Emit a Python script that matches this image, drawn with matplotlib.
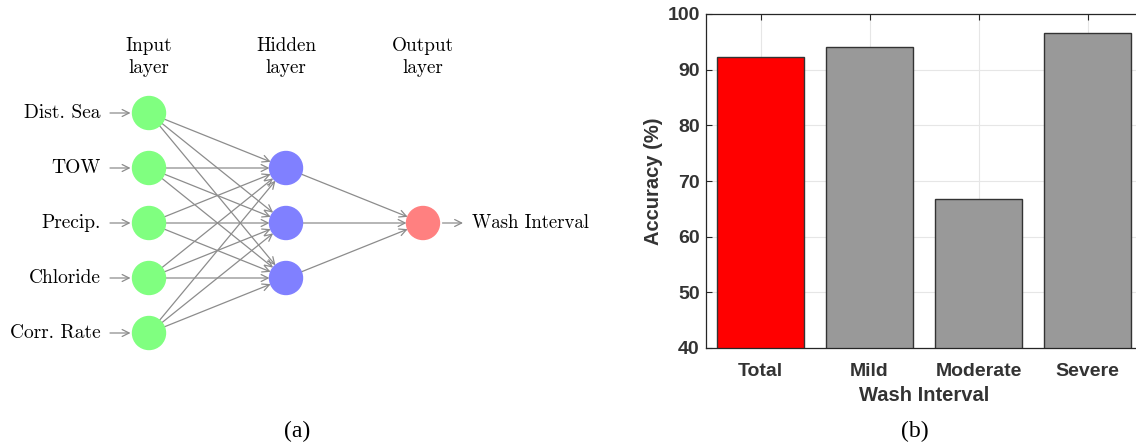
import matplotlib.pyplot as plt
from matplotlib.patches import Circle, FancyArrowPatch

# network diagram content
input_names = ["Dist. Sea", "TOW", "Precip.", "Chloride", "Corr. Rate"]
n_hidden = 3
output_name = "Wash Interval"
layer_titles = ["Input\nlayer", "Hidden\nlayer", "Output\nlayer"]

# bar chart data
classes = ["Total", "Mild", "Moderate", "Severe"]
accuracy = [92.3, 94.1, 66.7, 96.5]
bar_colors = ["#ff0000", "#999999", "#999999", "#999999"]

W, H = 1136, 447
fig = plt.figure(figsize=(W / 100, H / 100), dpi=100)

# ---- (a) network sketch, drawn in pixel coordinates ----
net = fig.add_axes([0, 0, 1, 1])
net.set_xlim(0, W)
net.set_ylim(H, 0)
net.axis("off")

cm = "cmr10"
layer_x = [149, 286, 423]
spacing = 55
r = 16.5
mid_y = 223

def column(n):
    return [mid_y + (i - (n - 1) / 2) * spacing for i in range(n)]

in_y = column(len(input_names))
hid_y = column(n_hidden)
out_y = column(1)

def arrow(x0, y0, x1, y1):
    a = FancyArrowPatch((x0, y0), (x1, y1), arrowstyle="->,head_length=5,head_width=2.5",
                        color="#8c8c8c", lw=0.9, shrinkA=0, shrinkB=0, zorder=1)
    net.add_patch(a)

def link(xa, ya, xb, yb):
    dx, dy = xb - xa, yb - ya
    d = (dx ** 2 + dy ** 2) ** 0.5
    arrow(xa + dx / d * r, ya + dy / d * r, xb - dx / d * r, yb - dy / d * r)

for ya in in_y:
    for yb in hid_y:
        link(layer_x[0], ya, layer_x[1], yb)
for ya in hid_y:
    for yb in out_y:
        link(layer_x[1], ya, layer_x[2], yb)

for name, y in zip(input_names, in_y):
    net.add_patch(Circle((layer_x[0], y), r, color="#80ff80", zorder=2))
    arrow(110, y, layer_x[0] - r - 2, y)
    net.text(101, y, name, family=cm, fontsize=14, ha="right", va="center")
for y in hid_y:
    net.add_patch(Circle((layer_x[1], y), r, color="#8080ff", zorder=2))
for y in out_y:
    net.add_patch(Circle((layer_x[2], y), r, color="#ff8080", zorder=2))
    arrow(layer_x[2] + r + 3, y, 463, y)
    net.text(472, y, output_name, family=cm, fontsize=13.5, ha="left", va="center")

for x, t in zip(layer_x, layer_titles):
    net.text(x, 57, t, family=cm, fontsize=13.8, ha="center", va="center", linespacing=1.3)

net.text(297, 431, "(a)", family="Liberation Serif", fontsize=17, ha="center", va="center")
net.text(915, 431, "(b)", family="Liberation Serif", fontsize=17, ha="center", va="center")

# ---- (b) accuracy per wash interval class ----
ax = fig.add_axes([706 / W, 1 - 348 / H, 436 / W, 334 / H])
pos = range(1, len(classes) + 1)
ax.bar(pos, accuracy, width=0.8, color=bar_colors, edgecolor="#333333", linewidth=1.0, zorder=2)
ax.set_xlim(0.5, len(classes) + 0.5)
ax.set_ylim(40, 100)
ax.set_xticks(list(pos))
ax.set_xticklabels(classes)
ax.set_yticks(range(40, 101, 10))
ax.grid(True, color="#e6e6e6", lw=0.8, zorder=0)
ax.set_axisbelow(True)
for s in ax.spines.values():
    s.set_color("#262626")
    s.set_linewidth(0.9)
ax.tick_params(direction="in", length=4, color="#262626", top=True, right=True,
               labelcolor="#333333", labelsize=14, pad=4.5)
ax.tick_params(axis="x", pad=11)
for lab in ax.get_xticklabels() + ax.get_yticklabels():
    lab.set_fontweight("bold")
    lab.set_family("Liberation Sans")
ax.set_xlabel("Wash Interval", fontsize=14.5, fontweight="bold", color="#333333",
              family="Liberation Sans", labelpad=4)
ax.set_ylabel("Accuracy (%)", fontsize=14.5, fontweight="bold", color="#333333",
              family="Liberation Sans", labelpad=3)

fig.savefig("out.png", dpi=100)
